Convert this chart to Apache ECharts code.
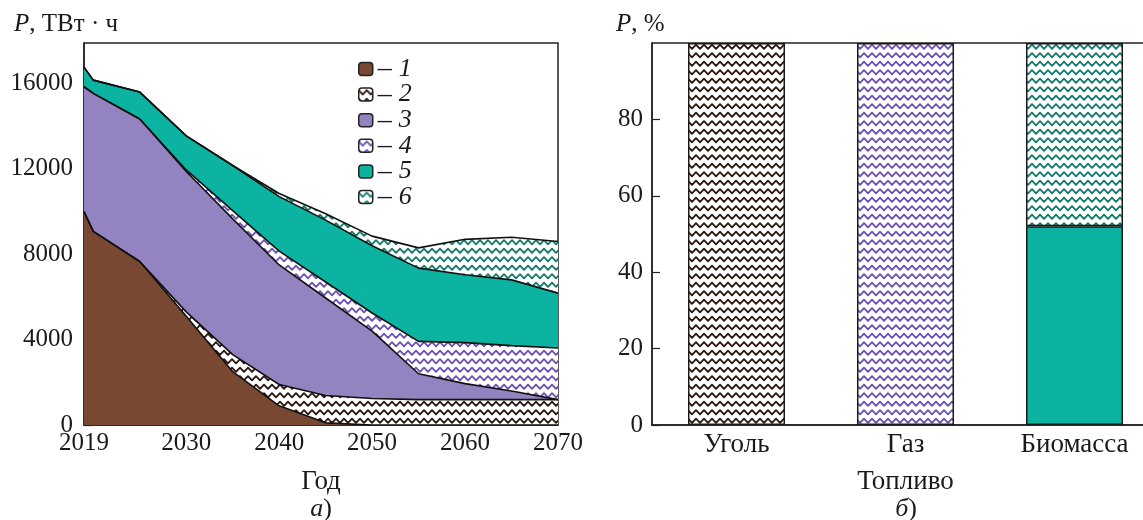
<!DOCTYPE html>
<html><head><meta charset="utf-8">
<script src="https://cdn.jsdelivr.net/npm/echarts@6/dist/echarts.min.js"></script>
<style>html,body{margin:0;padding:0;background:#fff}#c{width:1143px;height:520px}</style>
</head><body><div id="c"></div>
<script>
// ---- data (left panel: electricity generation, TWh) ----
const years   = [2019, 2020, 2025, 2030, 2035, 2040, 2045, 2050, 2055, 2060, 2065, 2070];
const coal    = [10000, 9070, 7660, 5100, 2500, 900, 100, 0, 0, 0, 0, 0];          // 1
const coalCCS = [0, 0, 0, 200, 800, 1000, 1280, 1240, 1190, 1190, 1190, 1190];      // 2
const gas     = [5850, 6470, 6680, 6580, 6360, 5600, 4570, 3160, 1210, 750, 400, 0]; // 3
const gasCCS  = [0, 0, 0, 70, 390, 650, 750, 850, 1520, 1920, 2130, 2420];          // 4
const bio     = [920, 620, 1260, 1600, 2110, 2550, 2900, 3150, 3430, 3180, 3080, 2570]; // 5
const bioCCS  = [0, 0, 0, 0, 0, 150, 300, 450, 950, 1660, 2000, 2420];              // 6
const seriesNames = ['1', '2', '3', '4', '5', '6'];
const xLabelYears = [2019, 2030, 2040, 2050, 2060, 2070];
const xTickYears  = [2030, 2040, 2050, 2060];

// ---- data (right panel: share, %) ----
const fuels      = ['Уголь', 'Газ', 'Биомасса'];
const shareLower = [100, 100, 52];
const shareUpper = [0, 0, 48];

// ---- styles ----
const FONT = 'Liberation Serif';
const BROWN = '#784832', PURPLE = '#9383c1', TEAL = '#0db3a1';
function wave(color) {
  const c = document.createElement('canvas');
  c.width = 16; c.height = 17;
  const g = c.getContext('2d');
  g.fillStyle = '#ffffff'; g.fillRect(0, 0, 16, 17);
  g.strokeStyle = color; g.lineWidth = 1.8; g.lineJoin = 'round'; g.lineCap = 'round';
  [4.25, 12.75].forEach(function (cy) {
    g.beginPath();
    g.moveTo(-4, cy + 2.1); g.lineTo(0, cy - 2.1); g.lineTo(4, cy + 2.1); g.lineTo(8, cy - 2.1);
    g.lineTo(12, cy + 2.1); g.lineTo(16, cy - 2.1); g.lineTo(20, cy + 2.1);
    g.stroke();
  });
  return { image: c, repeat: 'repeat' };
}
const COAL_P = wave('#2a1710'), GAS_P = wave('#6a52b3'), BIO_P = wave('#137a6b');
const fills = [BROWN, COAL_P, PURPLE, GAS_P, TEAL, BIO_P];
const values = [coal, coalCCS, gas, gasCCS, bio, bioCCS];

// cumulative tops (stack built by hand; each layer filled from 0, drawn top-down)
const cumulative = values.map(function (arr, k) {
  return years.map(function (y, i) {
    let s = 0; for (let j = 0; j <= k; j++) s += values[j][i]; return s;
  });
});
const lineSeries = [];
for (let k = values.length - 1; k >= 0; k--) {
  lineSeries.push({
    name: seriesNames[k], type: 'line', xAxisIndex: 0, yAxisIndex: 0,
    data: years.map(function (y, i) { return [y, cumulative[k][i]]; }),
    showSymbol: false, symbol: 'none', smooth: false,
    itemStyle: { color: fills[k] },
    lineStyle: { color: '#111', width: 1.6 },
    areaStyle: { color: fills[k], opacity: 1, origin: 'start' },
    emphasis: { disabled: true }
  });
}

const lowerFill = [COAL_P, GAS_P, TEAL];
const upperFill = [null, null, BIO_P];
const barSeries = [
  { name: 'Доля', type: 'bar', stack: 'share', xAxisIndex: 1, yAxisIndex: 1, barWidth: 97,
    data: shareLower.map(function (v, i) { return { value: v, itemStyle: { color: lowerFill[i] } }; }),
    itemStyle: { borderColor: '#1a1a1a', borderWidth: 1.5 }, emphasis: { disabled: true } },
  { name: 'Доля CCS', type: 'bar', stack: 'share', xAxisIndex: 1, yAxisIndex: 1, barWidth: 97,
    data: shareUpper.map(function (v, i) { return v ? { value: v, itemStyle: { color: upperFill[i] } } : '-'; }),
    itemStyle: { borderColor: '#1a1a1a', borderWidth: 1.5 }, emphasis: { disabled: true } }
];

const numStyle = { fontFamily: FONT, fontSize: 25, color: '#1a1a1a' };
const textStyle = { fontFamily: FONT, fontSize: 27, color: '#1a1a1a' };
const axisLineStyle = { color: '#222', width: 1.5 };
const plain = function (v) { return String(v); };

const chart = echarts.init(document.getElementById('c'), null, { renderer: 'canvas' });
chart.setOption({
  animation: false,
  backgroundColor: '#fff',
  title: [
    { text: '{i|P}, ТВт · ч', left: 9, top: 7,
      textStyle: { fontFamily: FONT, fontSize: 25, fontWeight: 'normal', color: '#1a1a1a',
        rich: { i: { fontFamily: FONT, fontSize: 25, fontStyle: 'italic', color: '#1a1a1a' } } } },
    { text: '{i|P}, %', left: 611, top: 7,
      textStyle: { fontFamily: FONT, fontSize: 25, fontWeight: 'normal', color: '#1a1a1a',
        rich: { i: { fontFamily: FONT, fontSize: 25, fontStyle: 'italic', color: '#1a1a1a' } } } }
  ],
  grid: [
    { left: 84, top: 43, width: 474, height: 382, show: true, borderColor: '#222', borderWidth: 1.5, outerBoundsMode: 'none', containLabel: false },
    { left: 652, top: 43, width: 507, height: 382, show: true, borderColor: '#222', borderWidth: 1.5, outerBoundsMode: 'none', containLabel: false }
  ],
  legend: {
    data: seriesNames, orient: 'vertical', left: 353, top: 50,
    icon: 'roundRect', itemWidth: 14, itemHeight: 13, itemGap: -2.4,
    itemStyle: { borderColor: '#222', borderWidth: 1.5 },
    selectedMode: false,
    formatter: function (n) { return '{d|– }{n|' + n + '}'; },
    textStyle: { fontFamily: FONT, fontSize: 26, color: '#1a1a1a', lineHeight: 21,
      rich: { d: { fontFamily: FONT, fontSize: 28, color: '#1a1a1a', lineHeight: 21 },
              n: { fontFamily: FONT, fontSize: 26, fontStyle: 'italic', color: '#1a1a1a', lineHeight: 21 } } }
  },
  xAxis: [
    { gridIndex: 0, type: 'value', min: 2019, max: 2070,
      axisLine: { lineStyle: axisLineStyle },
      axisTick: { inside: true, length: 8, customValues: xTickYears, lineStyle: { color: '#222', width: 1.2 } },
      axisLabel: Object.assign({ customValues: xLabelYears, margin: 6, formatter: plain }, numStyle),
      splitLine: { show: false },
      name: 'Год', nameLocation: 'middle', nameGap: 43, nameTextStyle: textStyle },
    { gridIndex: 1, type: 'category', data: fuels, boundaryGap: true,
      axisLine: { lineStyle: axisLineStyle }, axisTick: { show: false },
      axisLabel: Object.assign({ margin: 6 }, textStyle),
      name: 'Топливо', nameLocation: 'middle', nameGap: 43, nameTextStyle: textStyle }
  ],
  yAxis: [
    { gridIndex: 0, type: 'value', min: 0, max: 17900, interval: 4000,
      axisLine: { show: true, lineStyle: axisLineStyle },
      axisTick: { show: true, inside: true, length: 8, lineStyle: { color: '#222', width: 1.2 } },
      axisLabel: Object.assign({ margin: 11, showMaxLabel: false, formatter: plain }, numStyle),
      splitLine: { show: false } },
    { gridIndex: 1, type: 'value', min: 0, max: 100, interval: 20,
      axisLine: { show: true, lineStyle: axisLineStyle },
      axisTick: { show: true, inside: true, length: 8, lineStyle: { color: '#222', width: 1.2 } },
      axisLabel: Object.assign({ margin: 9, showMaxLabel: false, formatter: plain }, numStyle),
      splitLine: { show: false } }
  ],
  graphic: [
    { type: 'text', x: 321, y: 509, silent: true,
      style: { text: '{i|а})', align: 'center', verticalAlign: 'middle', font: '26px "Liberation Serif"', fill: '#1a1a1a',
        rich: { i: { fontStyle: 'italic', fontFamily: FONT, fontSize: 26, fill: '#1a1a1a' } } } },
    { type: 'text', x: 906, y: 509, silent: true,
      style: { text: '{i|б})', align: 'center', verticalAlign: 'middle', font: '26px "Liberation Serif"', fill: '#1a1a1a',
        rich: { i: { fontStyle: 'italic', fontFamily: FONT, fontSize: 26, fill: '#1a1a1a' } } } }
  ],
  series: lineSeries.concat(barSeries)
});
</script>
</body></html>
